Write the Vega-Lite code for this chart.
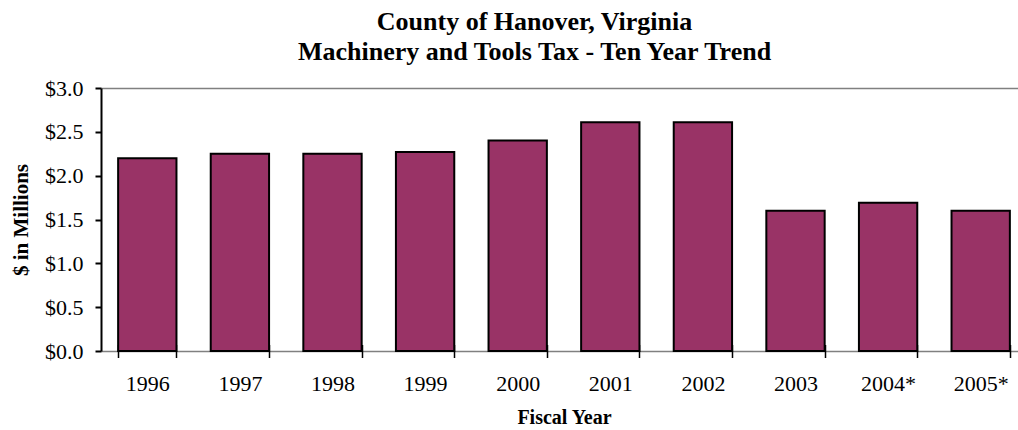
{
  "$schema": "https://vega.github.io/schema/vega-lite/v6.json",
  "autosize": "none",
  "width": 917,
  "height": 263,
  "padding": {"left": 101, "top": 88, "right": 0, "bottom": 79},
  "background": "white",
  "title": {
    "text": ["County of Hanover, Virginia", "Machinery and Tools Tax - Ten Year Trend"],
    "font": "Liberation Serif",
    "fontSize": 26,
    "fontWeight": "bold",
    "color": "black",
    "lineHeight": 30,
    "anchor": "middle",
    "dx": -25,
    "offset": 12
  },
  "data": {
    "values": [
      {"year": "1996", "value": 2.20},
      {"year": "1997", "value": 2.25},
      {"year": "1998", "value": 2.25},
      {"year": "1999", "value": 2.27},
      {"year": "2000", "value": 2.40},
      {"year": "2001", "value": 2.61},
      {"year": "2002", "value": 2.61},
      {"year": "2003", "value": 1.60},
      {"year": "2004*", "value": 1.69},
      {"year": "2005*", "value": 1.60}
    ]
  },
  "mark": {"type": "bar", "fill": "#993366", "stroke": "black", "strokeWidth": 2},
  "encoding": {
    "x": {
      "field": "year",
      "type": "nominal",
      "sort": null,
      "scale": {"range": [0, 926], "paddingInner": 0.37, "paddingOuter": 0.185},
      "axis": {
        "title": "Fiscal Year",
        "labelAngle": 0,
        "domain": false,
        "tickBand": "extent",
        "tickSize": 13,
        "tickWidth": 1.5,
        "tickColor": "black",
        "offset": -6.5,
        "labelFont": "Liberation Serif",
        "labelFontSize": 22,
        "labelColor": "black",
        "labelBaseline": "alphabetic",
        "labelPadding": 33,
        "titleFont": "Liberation Serif",
        "titleFontSize": 20,
        "titleFontWeight": "bold",
        "titleColor": "black",
        "titleY": 79,
        "titleBaseline": "alphabetic"
      }
    },
    "y": {
      "field": "value",
      "type": "quantitative",
      "scale": {"domain": [0, 3], "nice": false},
      "axis": {
        "title": "$ in Millions",
        "values": [0, 0.5, 1, 1.5, 2, 2.5, 3],
        "format": "$.1f",
        "domainColor": "black",
        "domainWidth": 2,
        "tickColor": "black",
        "tickWidth": 2,
        "tickSize": 6,
        "labelPadding": 12,
        "labelFont": "Liberation Serif",
        "labelFontSize": 22,
        "labelColor": "black",
        "titleFont": "Liberation Serif",
        "titleFontSize": 21,
        "titleFontWeight": "bold",
        "titleColor": "black",
        "titleX": -80,
        "titleY": 131.5,
        "titleAlign": "center",
        "titleBaseline": "middle",
        "titleAngle": 270,
        "grid": true,
        "gridWidth": 1.5,
        "gridColor": {"condition": {"test": "datum.value === 3 || datum.value === 0", "value": "#808080"}, "value": "transparent"}
      }
    }
  },
  "config": {"view": {"stroke": null}}
}
